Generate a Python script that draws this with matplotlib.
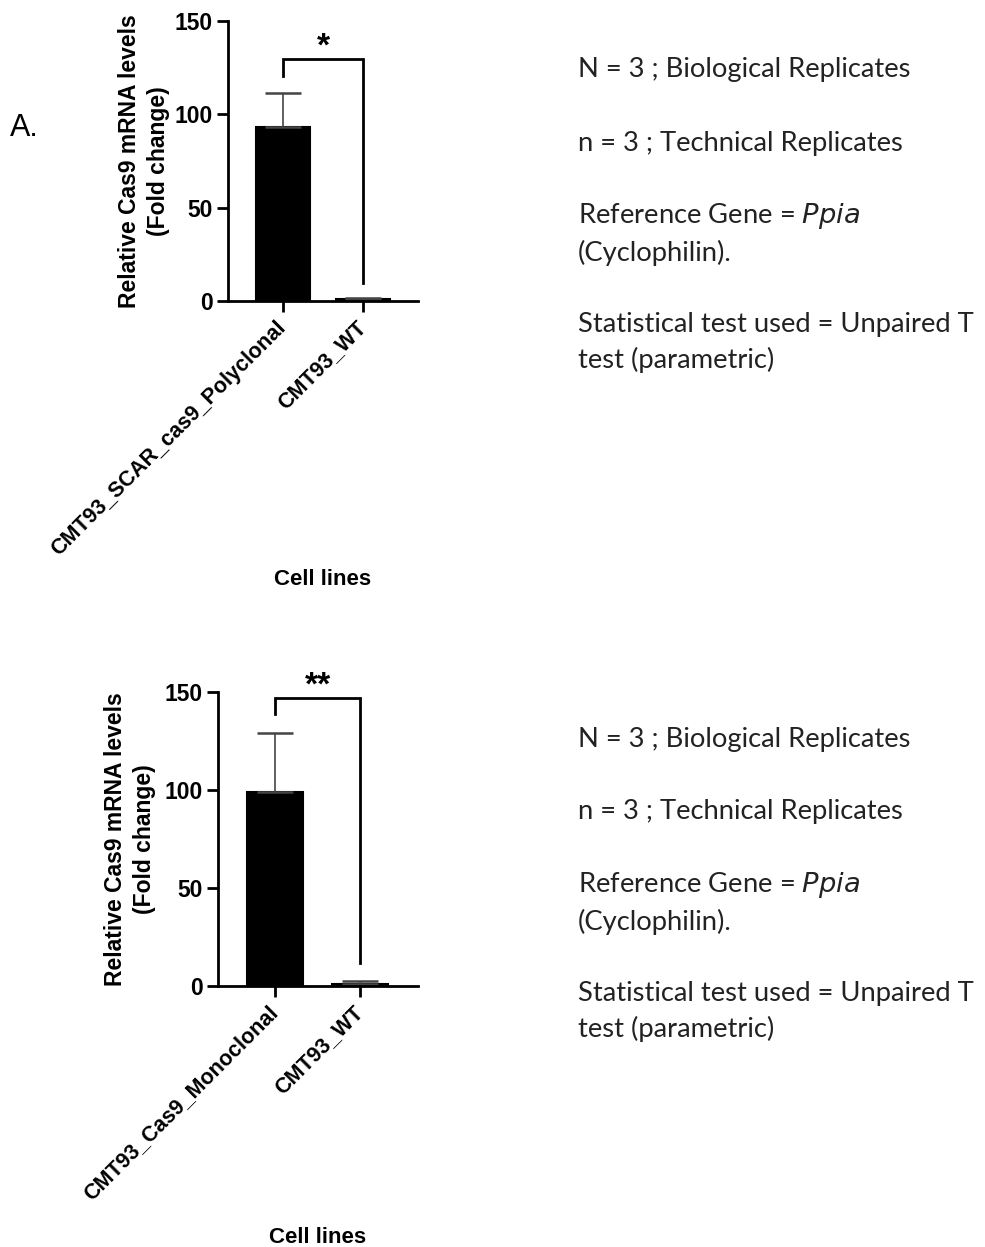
import matplotlib
matplotlib.use("Agg")
import matplotlib.pyplot as plt

# Panel A: polyclonal line vs wild type
cats_top = ["CMT93_SCAR_cas9_Polyclonal", "CMT93_WT"]
means_top = [93.2, 1.0]
err_top = [18.2, 0.6]

# Panel B: monoclonal line vs wild type
cats_bot = ["CMT93_Cas9_Monoclonal", "CMT93_WT"]
means_bot = [99.0, 1.0]
err_bot = [30.0, 1.5]

yticks = [0, 50, 100, 150]
notes = [
    "N = 3 ; Biological Replicates",
    "n = 3 ; Technical Replicates",
    "Reference Gene = $\\it{Ppia}$",
    "(Cyclophilin).",
    "Statistical test used = Unpaired T",
    "test (parametric)",
]
note_offsets = [0, 73, 146, 183, 255, 290]

W, H = 985, 1247
fig = plt.figure(figsize=(W / 100, H / 100), dpi=100)

bold = dict(family="Liberation Sans", weight="bold")


def panel(rect, cats, means, errs, xlim, width, bracket, stars, star_y,
          ylab_x, xlab_y):
    ax = fig.add_axes(rect)
    x = list(range(len(cats)))
    ax.bar(x, means, width=width, color="black", edgecolor="black", linewidth=1.5)
    ax.errorbar(x, means, yerr=[[0] * len(errs), errs], fmt="none",
                ecolor="#444444", elinewidth=1.2, capsize=13, capthick=1.8)
    ax.set_xlim(*xlim)
    ax.set_ylim(0, 150)
    ax.set_yticks(yticks)
    ax.set_xticks(x)
    ax.set_xticklabels(cats, rotation=45, ha="right", va="center",
                       rotation_mode="anchor", fontsize=15.5, **bold)
    for lab in ax.get_yticklabels():
        lab.set_fontsize(16.5)
        lab.set_family("Liberation Sans")
        lab.set_weight("bold")
    for s in ["top", "right"]:
        ax.spines[s].set_visible(False)
    for s in ["left", "bottom"]:
        ax.spines[s].set_linewidth(2.0)
    ax.tick_params(axis="both", width=2.0, length=8, direction="out", pad=3)
    ax.tick_params(axis="x", pad=9)
    ax.set_ylabel("Relative Cas9 mRNA levels\n(Fold change)", fontsize=16.5,
                  linespacing=1.3, va="center", **bold)
    ax.yaxis.set_label_coords(ylab_x, 0.5)
    ax.set_xlabel("Cell lines", fontsize=16, va="center", **bold)
    ax.xaxis.set_label_coords(0.5, xlab_y)
    top, left_end, right_end = bracket
    ax.plot([0, 0, 1, 1], [left_end, top, top, right_end], color="black",
            linewidth=2.0, clip_on=False, solid_joinstyle="miter")
    ax.text(0.5, star_y, stars, ha="center", va="center", fontsize=24,
            **bold)
    ax.set_facecolor("none")
    return ax


panel([228 / W, 1 - 301 / H, 190 / W, 280 / H], cats_top, means_top,
      err_top, (-0.6875, 1.6875), 0.675, (129.6, 120.5, 9.6), "*", 136,
      -0.442, -0.996)
panel([218 / W, 1 - 986 / H, 200 / W, 294 / H], cats_bot, means_bot,
      err_bot, (-0.67, 1.68), 0.66, (147.0, 139.0, 11.7), "**", 153,
      -0.44, -0.854)

fig.text(10 / W, 1 - 128 / H, "A.", fontsize=22, family="Liberation Sans",
         va="center", ha="left")

for y0 in (70, 739):
    for off, txt in zip(note_offsets, notes):
        fig.text(578 / W, 1 - (y0 + off) / H, txt, family="Lato",
                 fontsize=19.75, color="#222222", ha="left", va="center")

fig.savefig("out.png", dpi=100, facecolor="white")
